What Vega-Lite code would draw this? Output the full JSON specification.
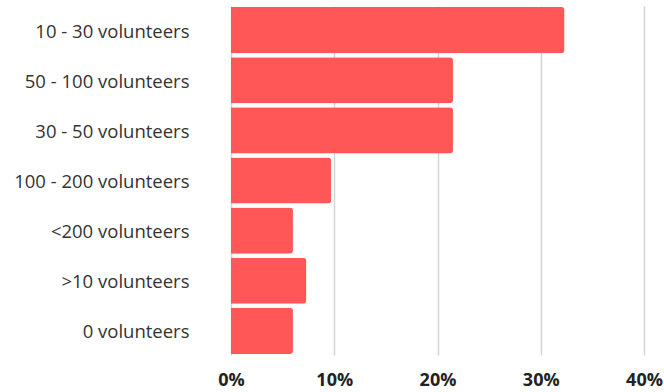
{
  "$schema": "https://vega.github.io/schema/vega-lite/v6.json",
  "autosize": "none",
  "width": 413,
  "height": 349,
  "padding": {"left": 231, "top": 6, "right": 20, "bottom": 37},
  "background": "white",
  "config": {"view": {"stroke": null}, "font": "Open Sans"},
  "data": {"values": [
    {"category": "10 - 30 volunteers", "share": 0.323},
    {"category": "50 - 100 volunteers", "share": 0.215},
    {"category": "30 - 50 volunteers", "share": 0.215},
    {"category": "100 - 200 volunteers", "share": 0.097},
    {"category": "<200 volunteers", "share": 0.060},
    {"category": ">10 volunteers", "share": 0.073},
    {"category": "0 volunteers", "share": 0.060}
  ]},
  "mark": {"type": "bar", "color": "#FF5757", "cornerRadiusEnd": 3},
  "encoding": {
    "y": {
      "field": "category", "type": "nominal", "sort": null,
      "scale": {"paddingInner": 0.08, "paddingOuter": 0.02},
      "axis": {"title": null, "ticks": false, "domain": false, "labelFontSize": 18.5, "labelColor": "#333333", "labelPadding": 42, "labelOffset": 1.5, "labelFont": "Open Sans"}
    },
    "x": {
      "field": "share", "type": "quantitative",
      "scale": {"domain": [0, 0.4], "nice": false},
      "axis": {"title": null, "format": ".0%", "values": [0, 0.1, 0.2, 0.3, 0.4], "ticks": false, "domain": false,
        "grid": true, "gridColor": "#d4d4d4", "gridWidth": 1.5, "labelFlush": false,
        "labelFontSize": 18, "labelFontWeight": "bold", "labelColor": "#222222", "labelPadding": 16, "labelFont": "Open Sans"}
    }
  }
}
